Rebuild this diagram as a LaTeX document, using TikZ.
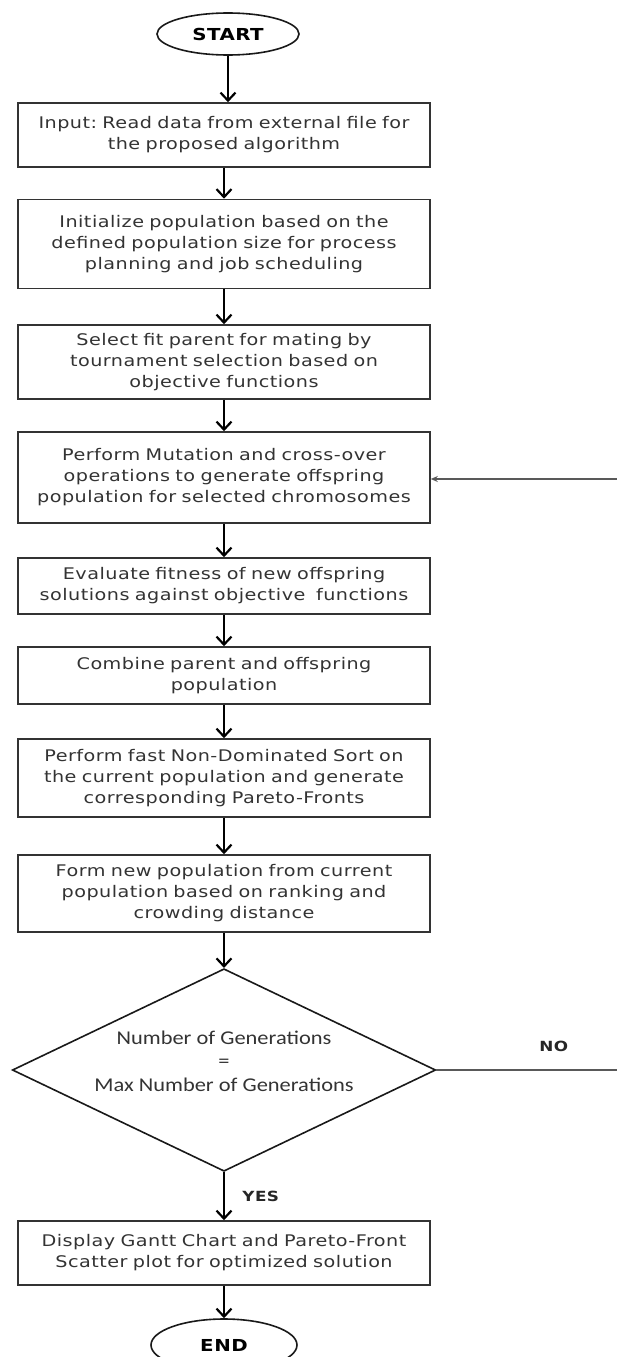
\documentclass[tikz,border=0pt]{standalone}
\usepackage{fontspec}
\setmainfont{DejaVu Sans}[FakeStretch=1.2, LetterSpace=3]
\newfontfamily\calfont{Carlito}[FakeStretch=1.15]
\usetikzlibrary{shapes.geometric,arrows.meta}
\frenchspacing

\tikzset{
	procbox/.style={draw=black!80, line width=1.6pt, rectangle, minimum width=412pt,
		text width=408pt, align=center, inner sep=0pt, text=black!80,
		font=\fontsize{16}{21}\selectfont},
	termnode/.style={draw=black!90, line width=1.6pt, ellipse, inner sep=0pt,
		font=\bfseries\fontsize{16.5}{18}\selectfont},
	decnode/.style={draw=black!90, line width=1.6pt, diamond, aspect=2.09, inner sep=0pt,
		minimum width=422pt, minimum height=202pt, align=center, text=black!80,
		text depth=18pt, font=\calfont\fontsize{19.5}{23.5}\selectfont},
	flowline/.style={line width=2.2pt, -{Straight Barb[length=8pt,width=15pt,line width=2.2pt]}},
	backline/.style={line width=1.5pt, black!65},
	lbl/.style={font=\bfseries\fontsize{14}{17}\selectfont, text=black!85}
}

\begin{document}
\begin{tikzpicture}[x=1pt, y=-1pt]
	\useasboundingbox (0,0) rectangle (617,1357);
	
	\node[termnode, minimum width=142pt, minimum height=42pt] (start) at (228,34) {START};
	\node[procbox, minimum height=64pt] (input) at (224,135)
		{Input: Read data from external file for\\the proposed algorithm};
	\node[procbox, minimum height=89pt] (initpop) at (224,244)
		{Initialize population based on the\\defined population size for process\\planning and job scheduling};
	\node[procbox, minimum height=74pt] (select) at (224,362)
		{Select fit parent for mating by\\tournament selection based on\\objective functions};
	\node[procbox, minimum height=91pt] (mutate) at (224,477.5)
		{Perform Mutation and cross-over\\operations to generate offspring\\population for selected chromosomes};
	\node[procbox, minimum height=56pt] (evaluate) at (224,586)
		{Evaluate fitness of new offspring\\solutions against objective\ \ functions};
	\node[procbox, minimum height=57pt] (combine) at (224,675.5)
		{Combine parent and offspring\\population};
	\node[procbox, minimum height=78pt] (sort) at (224,778)
		{Perform fast Non-Dominated Sort on\\the current population and generate\\corresponding Pareto-Fronts};
	\node[procbox, minimum height=77pt] (newpop) at (224,893.5)
		{Form new population from current\\population based on ranking and\\crowding distance};
	\node[decnode] (check) at (224,1070)
		{Number of Generations\\=\\Max Number of Generations};
	\node[procbox, minimum height=64pt] (display) at (224,1253)
		{Display Gantt Chart and Pareto-Front\\Scatter plot for optimized solution};
	\node[termnode, minimum width=146pt, minimum height=52pt] (stop) at (224,1345) {END};
	
	\coordinate (loopin) at (617,479);
	\coordinate (loopout) at (617,1070);
	
	% main flow
	\draw[flowline] (start.south) -- (start.south |- input.north);
	\draw[flowline] (input) -- (initpop);
	\draw[flowline] (initpop) -- (select);
	\draw[flowline] (select) -- (mutate);
	\draw[flowline] (mutate) -- (evaluate);
	\draw[flowline] (evaluate) -- (combine);
	\draw[flowline] (combine) -- (sort);
	\draw[flowline] (sort) -- (newpop);
	\draw[flowline] (newpop) -- (check);
	\draw[flowline] (check) -- node[lbl, right=14pt] {YES} (display);
	\draw[flowline] (display) -- (stop);
	
	% loop back
	\draw[backline] (check.east) -- node[lbl, pos=0.65, above=14pt] {NO} (loopout);
	\draw[backline, -{Stealth[length=7pt,width=6pt]}] (loopin) -- (mutate.east |- loopin);
\end{tikzpicture}
\end{document}
